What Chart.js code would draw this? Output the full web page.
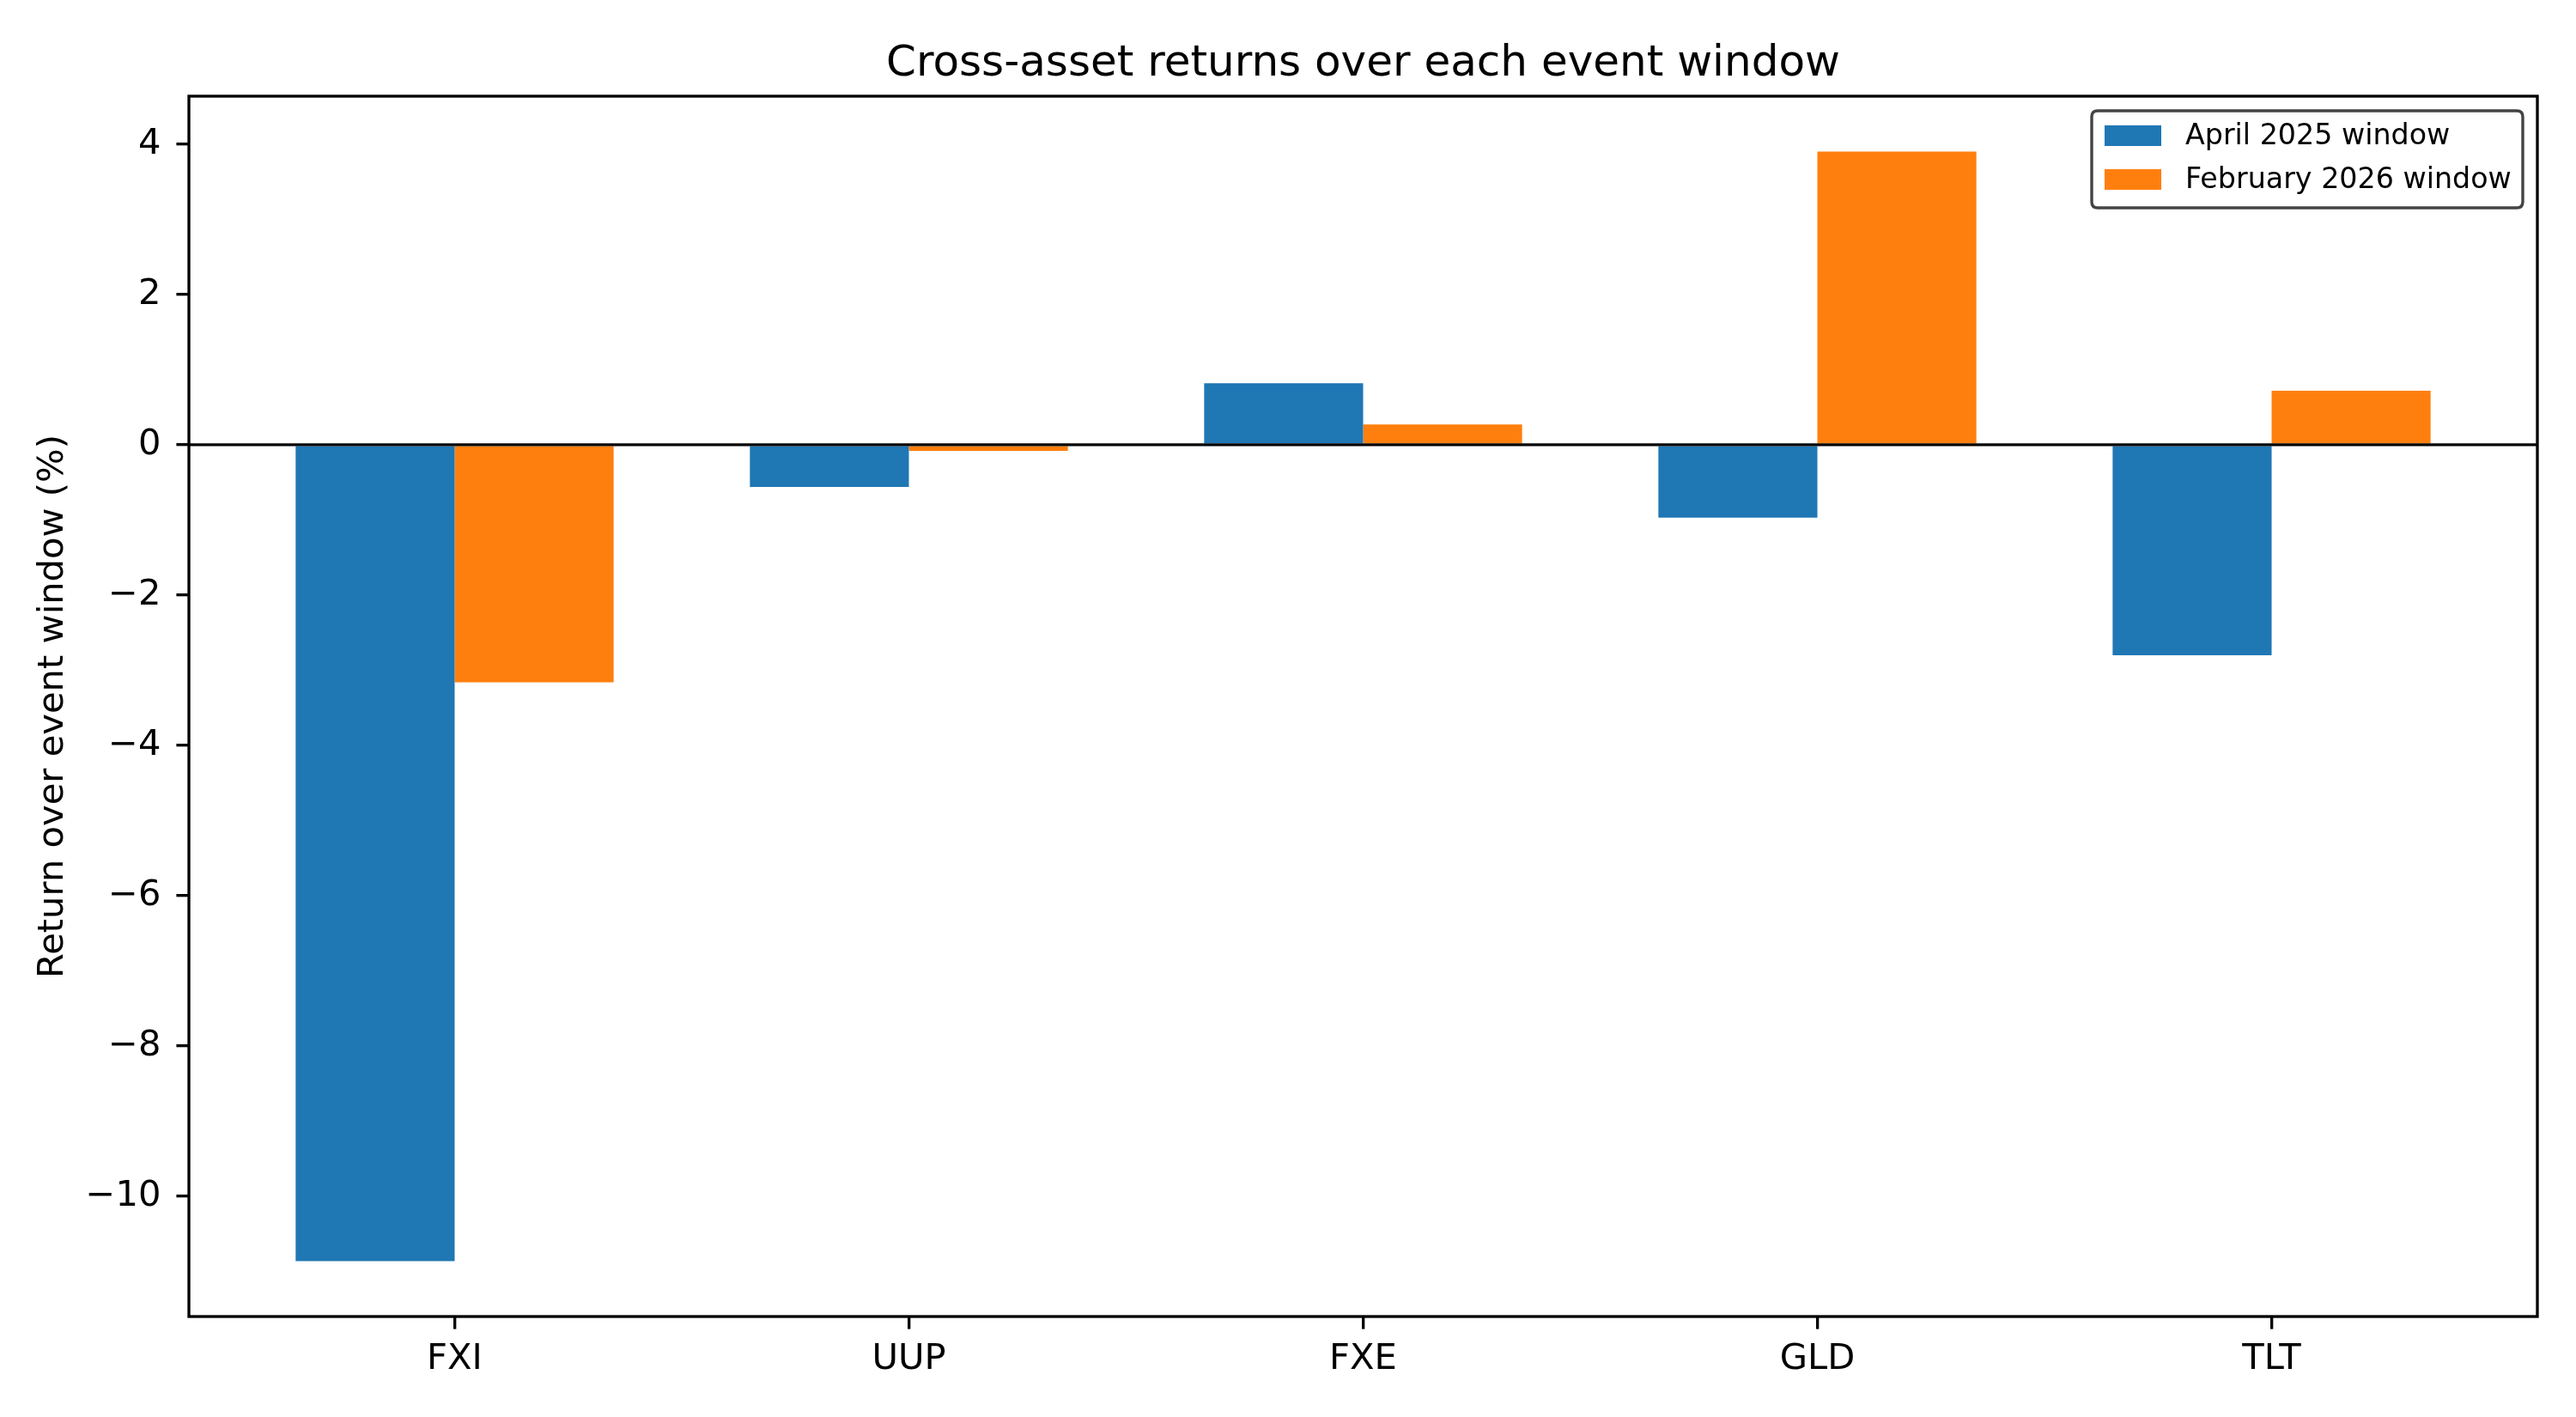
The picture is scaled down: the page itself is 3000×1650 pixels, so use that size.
<!DOCTYPE html>
<html>
<head>
<meta charset="utf-8">
<script src="https://cdn.jsdelivr.net/npm/chart.js@4.4.1/dist/chart.umd.min.js"></script>
<style>
  html, body { margin: 0; padding: 0; background: #ffffff; }
  #wrap { width: 3000px; height: 1650px; }
</style>
</head>
<body>
<div id="wrap"><canvas id="c" width="3000" height="1650"></canvas></div>
<script>
// ---- data ----
const categories = ['FXI', 'UUP', 'FXE', 'GLD', 'TLT'];
const seriesNames = ['April 2025 window', 'February 2026 window'];
const april2025 = [-10.86, -0.56, 0.82, -0.97, -2.80];
const feb2026 = [-3.16, -0.08, 0.27, 3.90, 0.72];
const yTickValues = [-10, -8, -6, -4, -2, 0, 2, 4];
const seriesColors = ['#1f77b4', '#ff7f0e'];
const chartTitle = 'Cross-asset returns over each event window';
const yAxisTitle = 'Return over event window (%)';

// ---- derived limits (matplotlib-style 5% margins) ----
const barW = 0.35;
const allVals = april2025.concat(feb2026, [0]);
const dMin = Math.min(...allVals), dMax = Math.max(...allVals);
const yMin = dMin - 0.05 * (dMax - dMin);
const yMax = dMax + 0.05 * (dMax - dMin);
const xLo = -barW, xHi = categories.length - 1 + barW;
const xMin = xLo - 0.05 * (xHi - xLo);
const xMax = xHi + 0.05 * (xHi - xLo);

const FONT = 'DejaVu Sans';
const LW = 3.33;

const helperPlugin = {
  id: 'mplHelper',
  afterLayout(chart) {
    const t = chart.titleBlock;
    if (t) {
      t.left = chart.chartArea.left;
      t.right = chart.chartArea.right;
      t.width = t.right - t.left;
    }
  },
  afterDatasetsDraw(chart) {
    const ctx = chart.ctx;
    const a = chart.chartArea;
    const y0 = chart.scales.y.getPixelForValue(0);
    ctx.save();
    ctx.strokeStyle = '#000';
    ctx.lineWidth = LW;
    ctx.beginPath();
    ctx.moveTo(a.left, y0);
    ctx.lineTo(a.right, y0);
    ctx.stroke();
    ctx.strokeRect(a.left, a.top, a.right - a.left, a.bottom - a.top);
    ctx.restore();
  },
  afterDraw(chart) {
    const ctx = chart.ctx;
    const a = chart.chartArea;
    const fs = 33.3;
    const boxR = a.right - 17, boxT = a.top + 17;
    const boxW = 502, boxH = 113;
    const boxL = boxR - boxW;
    ctx.save();
    const r = 7;
    ctx.beginPath();
    ctx.moveTo(boxL + r, boxT);
    ctx.lineTo(boxR - r, boxT);
    ctx.quadraticCurveTo(boxR, boxT, boxR, boxT + r);
    ctx.lineTo(boxR, boxT + boxH - r);
    ctx.quadraticCurveTo(boxR, boxT + boxH, boxR - r, boxT + boxH);
    ctx.lineTo(boxL + r, boxT + boxH);
    ctx.quadraticCurveTo(boxL, boxT + boxH, boxL, boxT + boxH - r);
    ctx.lineTo(boxL, boxT + r);
    ctx.quadraticCurveTo(boxL, boxT, boxL + r, boxT);
    ctx.closePath();
    ctx.fillStyle = 'rgba(255,255,255,0.8)';
    ctx.fill();
    ctx.strokeStyle = '#444444';
    ctx.lineWidth = 3.4;
    ctx.stroke();
    ctx.font = fs + 'px "' + FONT + '"';
    ctx.textBaseline = 'middle';
    ctx.textAlign = 'left';
    chart.data.datasets.forEach((ds, i) => {
      const cy = boxT + 29 + i * 51;
      ctx.fillStyle = ds.backgroundColor;
      ctx.fillRect(boxL + 15, cy - 12, 66, 24);
      ctx.fillStyle = '#000';
      ctx.fillText(ds.label, boxL + 109, cy + 1);
    });
    ctx.restore();
  }
};

new Chart(document.getElementById('c'), {
  type: 'bar',
  data: {
    datasets: [
      {
        label: seriesNames[0],
        data: april2025.map((v, i) => ({ x: i, y: v })),
        backgroundColor: seriesColors[0],
        borderWidth: 0,
        categoryPercentage: 2 * barW,
        barPercentage: 1.0
      },
      {
        label: seriesNames[1],
        data: feb2026.map((v, i) => ({ x: i, y: v })),
        backgroundColor: seriesColors[1],
        borderWidth: 0,
        categoryPercentage: 2 * barW,
        barPercentage: 1.0
      }
    ]
  },
  options: {
    responsive: false,
    devicePixelRatio: 1,
    animation: false,
    layout: { padding: { top: 0, right: 45, bottom: 0, left: 0 } },
    plugins: {
      legend: { display: false },
      tooltip: { enabled: false },
      title: {
        display: true,
        text: chartTitle,
        color: '#000',
        font: { family: FONT, size: 50, weight: 'normal', lineHeight: 1.2 },
        padding: { top: 45, bottom: 7 }
      }
    },
    scales: {
      x: {
        type: 'linear',
        min: xMin,
        max: xMax,
        bounds: 'data',
        offset: false,
        afterBuildTicks: (s) => { s.ticks = categories.map((_, i) => ({ value: i })); },
        afterFit: (s) => { s.height = 117; },
        ticks: {
          callback: (v) => (categories[v] !== undefined ? categories[v] : ''),
          color: '#000',
          font: { family: FONT, size: 41.67 },
          padding: 11,
          maxRotation: 0,
          autoSkip: false
        },
        grid: {
          offset: false,
          drawOnChartArea: false,
          drawTicks: true,
          tickLength: 14.6,
          tickWidth: LW,
          tickColor: '#000',
          color: '#000',
          lineWidth: LW
        },
        border: { display: false }
      },
      y: {
        type: 'linear',
        min: yMin,
        max: yMax,
        bounds: 'data',
        afterBuildTicks: (s) => { s.ticks = yTickValues.map(v => ({ value: v })); },
        afterFit: (s) => { s.width = 220; },
        ticks: {
          callback: (v) => (v < 0 ? '\u2212' + Math.abs(v) : String(v)),
          color: '#000',
          font: { family: FONT, size: 41.67 },
          padding: 18,
          autoSkip: false
        },
        grid: {
          offset: false,
          drawOnChartArea: false,
          drawTicks: true,
          tickLength: 14.6,
          tickWidth: LW,
          tickColor: '#000',
          color: '#000',
          lineWidth: LW
        },
        border: { display: false },
        title: {
          display: true,
          text: yAxisTitle,
          color: '#000',
          font: { family: FONT, size: 41.67, lineHeight: 1.2 },
          padding: { top: 37, bottom: 0 }
        }
      }
    }
  },
  plugins: [helperPlugin]
});
</script>
</body>
</html>
